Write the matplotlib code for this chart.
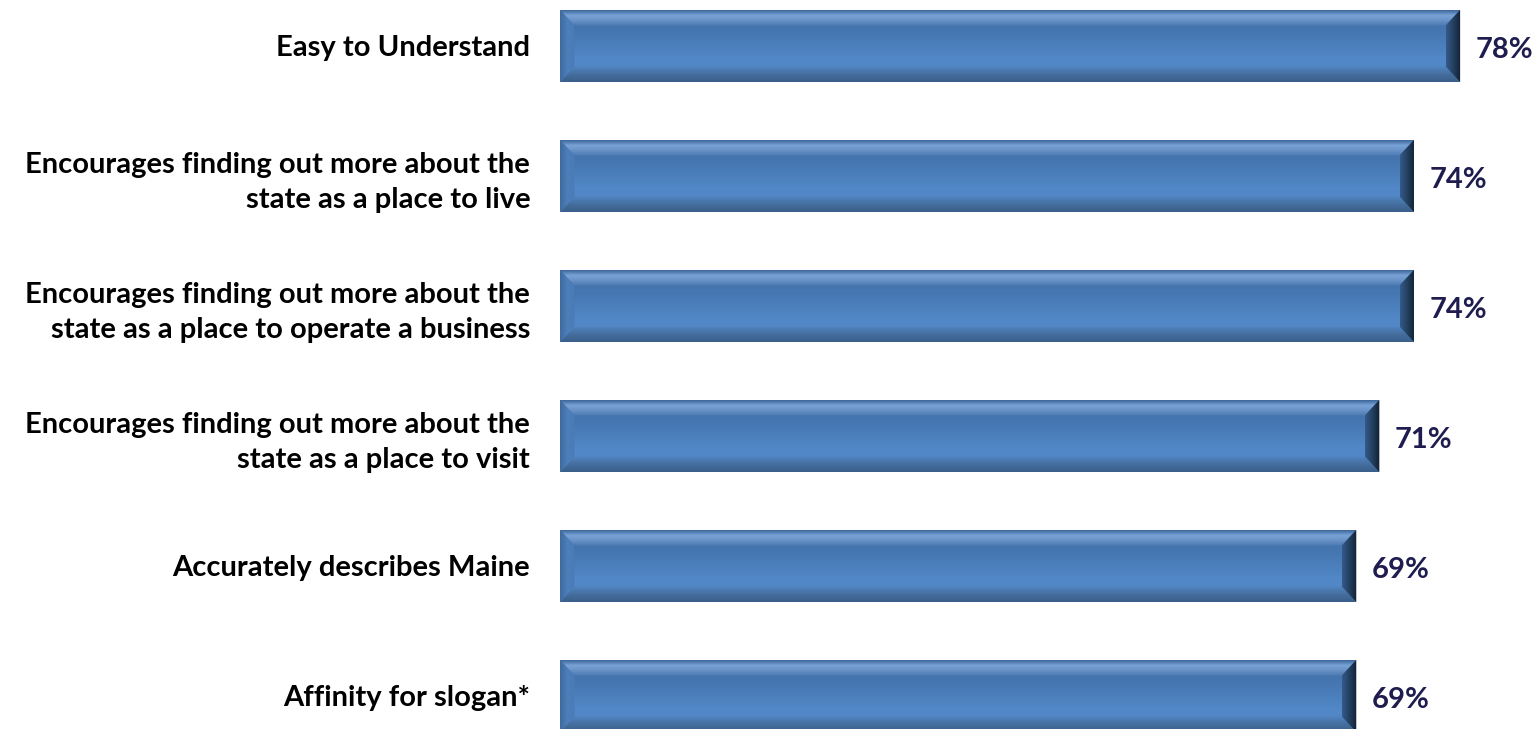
import numpy as np
import matplotlib.pyplot as plt
from matplotlib.patches import Polygon
from matplotlib.colors import LinearSegmentedColormap

categories = [
    "Easy to Understand",
    "Encourages finding out more about the\nstate as a place to live",
    "Encourages finding out more about the\nstate as a place to operate a business",
    "Encourages finding out more about the\nstate as a place to visit",
    "Accurately describes Maine",
    "Affinity for slogan*",
]
values = [78, 74, 74, 71, 69, 69]
value_labels = ["78%", "74%", "74%", "71%", "69%", "69%"]

plt.rcParams['font.family'] = ['Lato', 'DejaVu Sans']

fig = plt.figure(figsize=(15.34, 7.29), dpi=100)
ax = fig.add_axes([560 / 1534, 0, 974 / 1534, 1])
ax.set_xlim(0, 974 / 11.54)
ax.set_ylim(5 + 33 / 130, -46 / 130)

h = 0.555
bx = 1.25   # bevel width in x units
by = 0.12   # bevel height in y units


def grad(colors):
    return LinearSegmentedColormap.from_list("g", colors)


def shade(poly, cmap, extent, vertical=True):
    ax.add_patch(poly)
    if vertical:
        arr = np.linspace(0, 1, 64).reshape(-1, 1)
    else:
        arr = np.linspace(0, 1, 64).reshape(1, -1)
    im = ax.imshow(arr, cmap=cmap, extent=extent, aspect='auto',
                   origin='upper', interpolation='bilinear', zorder=2)
    im.set_clip_path(poly)


body_cm = grad(["#416fa5", "#4677b2", "#5187c6", "#5489c8"])
top_cm = grad(["#3c679a", "#7aa3d6", "#6791c6", "#4a78b0"])
bot_cm = grad(["#5085c3", "#456f9f", "#3a5f8a"])
left_cm = grad(["#3f6a9e", "#4d7fbb", "#4a7bb6"])
right_cm = grad(["#35598a", "#23405f", "#121f33"])

for i, v in enumerate(values):
    yt, yb = i - h / 2, i + h / 2
    # body
    body = Polygon([(0, yt), (v, yt), (v, yb), (0, yb)], closed=True,
                   facecolor="none", edgecolor="none")
    shade(body, body_cm, (0, v, yb, yt))
    # top bevel
    top = Polygon([(0, yt), (v, yt), (v - bx, yt + by), (bx, yt + by)],
                  closed=True, facecolor="none", edgecolor="none")
    shade(top, top_cm, (0, v, yt + by, yt))
    # bottom bevel
    bot = Polygon([(0, yb), (v, yb), (v - bx, yb - by), (bx, yb - by)],
                  closed=True, facecolor="none", edgecolor="none")
    shade(bot, bot_cm, (0, v, yb, yb - by))
    # left bevel
    left = Polygon([(0, yt), (bx, yt + by), (bx, yb - by), (0, yb)],
                   closed=True, facecolor="none", edgecolor="none")
    shade(left, left_cm, (0, bx, yb, yt), vertical=False)
    # right bevel
    right = Polygon([(v, yt), (v - bx, yt + by), (v - bx, yb - by), (v, yb)],
                    closed=True, facecolor="none", edgecolor="none")
    shade(right, right_cm, (v - bx, v, yb, yt), vertical=False)

    ax.text(v + 1.35, i + 0.03, value_labels[i], ha='left', va='center',
            fontsize=21, fontweight='bold', color="#1f1d4f")

ax.set_yticks(range(len(categories)))
ax.set_yticklabels(categories, fontsize=21, fontweight='bold', color='black',
                   linespacing=1.4)
ax.tick_params(axis='y', length=0, pad=21.5)
ax.set_xticks([])
for s in ax.spines.values():
    s.set_visible(False)

fig.savefig("out.png", dpi=100)
